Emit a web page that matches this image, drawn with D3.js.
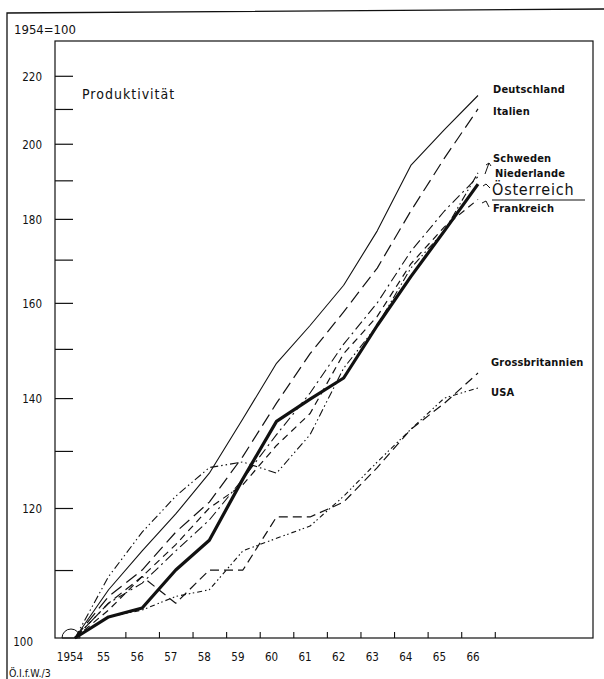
<!DOCTYPE html>
<html lang="de">
<head>
<meta charset="utf-8">
<script src="https://cdn.jsdelivr.net/npm/d3@7"></script>
<style>
  body { margin: 0; background: #fff; }
  svg text { font-family: "DejaVu Sans Condensed", "Liberation Sans Narrow", sans-serif; fill: #111; }
</style>
</head>
<body>
<div id="chart"></div>
<script>
// data, 1954 = 100
const years = [1954, 1955, 1956, 1957, 1958, 1959, 1960, 1961, 1962, 1963, 1964, 1965, 1966];
const yearLabels = ["1954", "55", "56", "57", "58", "59", "60", "61", "62", "63", "64", "65", "66"];
const majorTicks = [100, 120, 140, 160, 180, 200, 220];
const minorTicks = [110, 130, 150, 170, 190, 210];

const deutschland = [100, 107, 113, 119, 126, 136, 147, 155, 164, 177, 194, 204, 214];
const italien = [100, 106, 110, 116, 121, 129, 139, 149, 158, 168, 182, 196, 210];
const schweden = [100, 105, 108, 113, 118, 125, 133, 141, 151, 160, 172, 182, 191];
const niederlande = [100, 109, 116, 122, 127, 128, 126, 133, 146, 155, 168, 177, 192];
const oesterreich = [100, 103, 104.3, 110, 114.7, 125, 135.5, 139.8, 144, 155, 166, 177, 189];
const frankreich = [100, 104, 109, 114, 120, 124, 131, 137, 149, 157, 169, 178, 185];
const grossbritannien = [100, 105, 109, 105, 110, 110, 118.5, 118.5, 121, 127, 134, 139, 145];
const usa = [100, 103, 104, 106, 107, 113, 115, 117, 122, 128, 134, 140, 142];

const series = [
  { name: "Deutschland", values: deutschland, dash: null, w: 1.1 },
  { name: "Italien", values: italien, dash: "13,6", w: 1.2 },
  { name: "Schweden", values: schweden, dash: "10,4,2,4", w: 1.1 },
  { name: "Niederlande", values: niederlande, dash: "8,3,1.5,3,1.5,3", w: 1.1 },
  { name: "Österreich", values: oesterreich, dash: null, w: 3.2 },
  { name: "Frankreich", values: frankreich, dash: "7,5", w: 1.2 },
  { name: "Grossbritannien", values: grossbritannien, dash: "9,5", w: 1.2 },
  { name: "USA", values: usa, dash: "5,3,1.5,2.5,1.5,3", w: 1.1 }
];

// label placement at the right end
const labelPos = {
  "Deutschland": [493, 93, 11],
  "Italien": [493, 115, 11],
  "Schweden": [493, 162, 11],
  "Niederlande": [495, 177, 11],
  "Österreich": [492, 195, 16],
  "Frankreich": [493, 212, 11],
  "Grossbritannien": [491, 366, 11],
  "USA": [491, 396, 11]
};

const W = 604, H = 679;
const plot = { left: 55, right: 593, top: 41, bottom: 638 };

const svg = d3.select("#chart").append("svg")
  .attr("width", W).attr("height", H);

const x = d3.scaleLinear().domain([1954, 1966]).range([75, 478]);
const y = d3.scaleLog().domain([100, 231]).range([plot.bottom, plot.top]);

// outer frame (left + top)
svg.append("path")
  .attr("d", "M7,679 L7,13 L604,9")
  .attr("fill", "none").attr("stroke", "#111").attr("stroke-width", 1.3);

// plot frame
svg.append("rect")
  .attr("x", plot.left).attr("y", plot.top)
  .attr("width", plot.right - plot.left).attr("height", plot.bottom - plot.top)
  .attr("fill", "none").attr("stroke", "#111").attr("stroke-width", 1.2);

// y axis, ticks pointing inward
svg.append("g")
  .attr("transform", `translate(${plot.left},0)`)
  .call(d3.axisRight(y).tickValues(majorTicks.concat(minorTicks).filter(d => d > 100))
    .tickSize(18).tickFormat(""))
  .call(g => g.select(".domain").remove())
  .call(g => g.selectAll("line").attr("stroke", "#111").attr("stroke-width", 1.2));

svg.append("g").selectAll("text")
  .data(majorTicks)
  .enter().append("text")
  .attr("x", d => d === 100 ? 33 : 42)
  .attr("y", d => d === 100 ? y(d) + 8 : y(d) + 5)
  .attr("text-anchor", "end")
  .attr("font-size", 11.5)
  .text(d => d);

// x axis: small ticks between the years
svg.append("g")
  .attr("transform", `translate(0,${plot.bottom})`)
  .call(d3.axisTop(x).tickValues(years.slice(1).map(d => d + 0.5)).tickSize(6).tickFormat(""))
  .call(g => g.select(".domain").remove())
  .call(g => g.selectAll("line").attr("stroke", "#111").attr("stroke-width", 1.1));

svg.append("g").selectAll("text")
  .data(years)
  .enter().append("text")
  .attr("x", d => x(d) - 5)
  .attr("y", 661)
  .attr("text-anchor", "middle")
  .attr("font-size", 11.5)
  .text((d, i) => yearLabels[i]);

// base-year mark
svg.append("path")
  .attr("d", d3.arc()({ innerRadius: 0, outerRadius: 9, startAngle: -Math.PI / 2, endAngle: Math.PI / 2 }))
  .attr("transform", `translate(${x(1954) - 4},${plot.bottom})`)
  .attr("fill", "none").attr("stroke", "#111").attr("stroke-width", 1);

// lines
const line = d3.line()
  .x((d, i) => x(years[i]))
  .y(d => y(d));

svg.append("g").selectAll("path")
  .data(series)
  .enter().append("path")
  .attr("d", s => line(s.values))
  .attr("fill", "none")
  .attr("stroke", "#111")
  .attr("stroke-width", s => s.w)
  .attr("stroke-dasharray", s => s.dash)
  .attr("stroke-linejoin", "round");

// labels
svg.append("g").selectAll("text")
  .data(series)
  .enter().append("text")
  .attr("x", s => labelPos[s.name][0])
  .attr("y", s => labelPos[s.name][1])
  .attr("font-size", s => labelPos[s.name][2])
  .attr("font-weight", s => s.name === "Österreich" ? "normal" : "bold")
  .attr("letter-spacing", s => s.name === "Österreich" ? 0.8 : 0.2)
  .text(s => s.name);

// underline under Österreich
svg.append("line")
  .attr("x1", 492).attr("x2", 585).attr("y1", 200).attr("y2", 200)
  .attr("stroke", "#111").attr("stroke-width", 1);

// small pointers from labels to line ends
const pointers = [
  "M485,174 L489,163 M486,165 L489,163 L491,166",
  "M483,186 L486,184 L490,188",
  "M482,203 L486,201 L489,207"
];
svg.append("g").selectAll("path")
  .data(pointers)
  .enter().append("path")
  .attr("d", d => d)
  .attr("fill", "none").attr("stroke", "#111").attr("stroke-width", 1);

// titles
svg.append("text").attr("x", 14).attr("y", 34).attr("font-size", 13).text("1954=100");
svg.append("text").attr("x", 82).attr("y", 99).attr("font-size", 14)
  .attr("letter-spacing", 1).text("Produktivität");
svg.append("text").attr("x", 9).attr("y", 677).attr("font-size", 10.5).text("Ö.I.f.W./3");
</script>
</body>
</html>
